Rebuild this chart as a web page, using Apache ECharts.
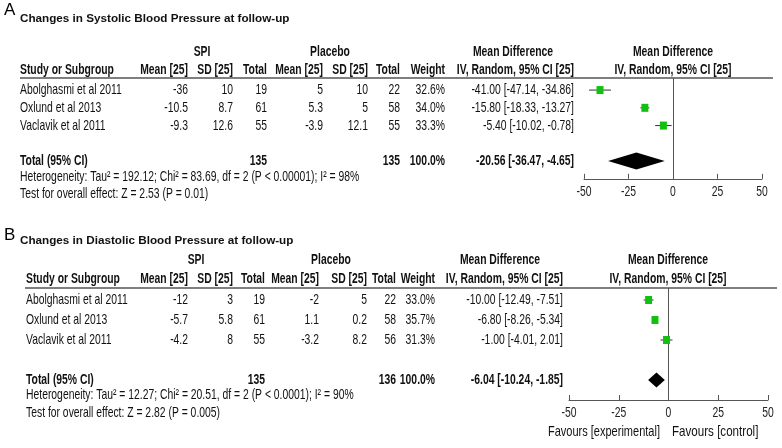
<!DOCTYPE html>
<html>
<head>
<meta charset="utf-8">
<script src="https://cdn.jsdelivr.net/npm/echarts@6/dist/echarts.min.js"></script>
<style>html,body{margin:0;padding:0;background:#fff}#c{width:782px;height:448px}</style>
</head>
<body>
<div id="c"></div>
<script>
// ---------------- DATA ----------------
const studies = ['Abolghasmi et al 2011', 'Oxlund et al 2013', 'Vaclavik et al 2011'];
const tickLabels = ['-50', '-25', '0', '25', '50'];

// Panel A: systolic
const titleA = 'Changes in Systolic Blood Pressure at follow-up';
const spiMeanA = [-36, -10.5, -9.3];
const spiSdA = [10, 8.7, 12.6];
const spiNA = [19, 61, 55];
const plMeanA = [5, 5.3, -3.9];
const plSdA = [10, 5, 12.1];
const plNA = [22, 58, 55];
const weightA = [32.6, 34.0, 33.3];
const mdA = [-41.00, -15.80, -5.40];
const loA = [-47.14, -18.33, -10.02];
const hiA = [-34.86, -13.27, -0.78];
const totalA = [135, 135, 100.0, -20.56, -36.47, -4.65]; // spiN, plN, weight, md, lo, hi
const hetA = 'Heterogeneity: Tau² = 192.12; Chi² = 83.69, df = 2 (P < 0.00001); I² = 98%';
const testA = 'Test for overall effect: Z = 2.53 (P = 0.01)';

// Panel B: diastolic
const titleB = 'Changes in Diastolic Blood Pressure at follow-up';
const spiMeanB = [-12, -5.7, -4.2];
const spiSdB = [3, 5.8, 8];
const spiNB = [19, 61, 55];
const plMeanB = [-2, 1.1, -3.2];
const plSdB = [5, 0.2, 8.2];
const plNB = [22, 58, 56];
const weightB = [33.0, 35.7, 31.3];
const mdB = [-10.00, -6.80, -1.00];
const loB = [-12.49, -8.26, -4.01];
const hiB = [-7.51, -5.34, 2.01];
const totalB = [135, 136, 100.0, -6.04, -10.24, -1.85];
const hetB = 'Heterogeneity: Tau² = 12.27; Chi² = 20.51, df = 2 (P < 0.0001); I² = 90%';
const testB = 'Test for overall effect: Z = 2.82 (P = 0.005)';

// ---------------- LAYOUT ----------------
const FONT = '"Liberation Sans", Arial, sans-serif';
const FS = 14.5;
const SX = 0.715;
const GREEN = '#12c012';

const panels = [
  {letter: 'A', title: titleA, spiMean: spiMeanA, spiSd: spiSdA, spiN: spiNA, plMean: plMeanA, plSd: plSdA, plN: plNA,
   weight: weightA, md: mdA, lo: loA, hi: hiA, total: totalA, het: hetA, test: testA,
   top: 78, min: 0.32, max: 6, unit: 17.75, gl: 584, gr: 762, studyX: 20,
   cols: {spiMean: 188, spiSd: 233, spiN: 267, plMean: 323, plSd: 368, plN: 400, w: 445, ci: 574},
   spiC: 202, plC: 330, mdC: 513, fC: 673, letterY: 10, titleY: 19, grpY: 52, hdrY: 70,
   ruleL: 20, ruleR: 773, hetY: 177, testY: 194, tickY: 192, halfH: 8.5, fav: false},
  {letter: 'B', title: titleB, spiMean: spiMeanB, spiSd: spiSdB, spiN: spiNB, plMean: plMeanB, plSd: plSdB, plN: plNB,
   weight: weightB, md: mdB, lo: loB, hi: hiB, total: totalB, het: hetB, test: testB,
   top: 288, min: 0.4, max: 6, unit: 20, gl: 569, gr: 768, studyX: 26,
   cols: {spiMean: 188, spiSd: 233, spiN: 265, plMean: 319, plSd: 367, plN: 396, w: 435, ci: 563},
   spiC: 196, plC: 331, mdC: 500, fC: 668, letterY: 235, titleY: 241, grpY: 260, hdrY: 279,
   ruleL: 25, ruleR: 777, hetY: 395, testY: 413, tickY: 413, halfH: 7.5, fav: true, favY: 432}
];

function T(x, y, text, o) {
  o = o || {};
  return {type: 'text', x: x, y: y, scaleX: (o.sx !== undefined ? o.sx : SX), silent: true, z: 10,
    style: {text: String(text), x: 0, y: 0, fontSize: o.size || FS, fontWeight: o.bold ? 'bold' : 'normal',
      fontFamily: FONT, fill: o.color || '#111', align: o.align || 'left', verticalAlign: 'middle'}};
}
const f2 = v => v.toFixed(2);
const ciText = (m, l, h) => f2(m) + ' [' + f2(l) + ', ' + f2(h) + ']';

const grids = [], xAxes = [], yAxes = [], series = [], graphics = [];

panels.forEach((p, k) => {
  const rowY = r => p.top + (r - p.min) * p.unit;
  const height = (p.max - p.min) * p.unit;
  grids.push({left: p.gl, width: p.gr - p.gl, top: p.top, height: height, containLabel: false});
  xAxes.push({type: 'value', gridIndex: k, min: -50, max: 50, interval: 25, position: 'bottom',
    axisLine: {show: true, onZero: false, lineStyle: {color: '#555', width: 1}},
    axisTick: {show: true, inside: true, length: 5, lineStyle: {color: '#555'}},
    splitLine: {show: false},
    axisLabel: {show: false}});
  yAxes.push({type: 'value', gridIndex: k, inverse: true, min: p.min, max: p.max, show: false});

  // CI whiskers
  series.push({type: 'custom', xAxisIndex: k, yAxisIndex: k, silent: true,
    data: p.md.map((m, i) => [p.lo[i], p.hi[i], i + 1]),
    encode: {x: [0, 1], y: 2},
    renderItem: (params, api) => {
      const a = api.coord([api.value(0), api.value(2)]);
      const b = api.coord([api.value(1), api.value(2)]);
      return {type: 'line', shape: {x1: a[0], y1: a[1], x2: b[0], y2: b[1]}, style: {stroke: '#333', lineWidth: 1}};
    }});
  // study squares + zero line
  series.push({type: 'scatter', xAxisIndex: k, yAxisIndex: k, silent: true, symbol: 'rect', symbolSize: [7, 8],
    itemStyle: {color: GREEN, opacity: 1},
    data: p.md.map((m, i) => [m, i + 1]),
    markLine: {silent: true, symbol: ['none', 'none'], label: {show: false},
      lineStyle: {color: '#555', width: 1, type: 'solid'}, data: [{xAxis: 0}]},
    z: 5});
  // pooled diamond
  const halfH = p.halfH;
  series.push({type: 'custom', xAxisIndex: k, yAxisIndex: k, silent: true,
    data: [[p.total[4], p.total[3], p.total[5], 5]],
    encode: {x: [0, 1, 2], y: 3},
    renderItem: (params, api) => {
      const l = api.coord([api.value(0), api.value(3)]);
      const c = api.coord([api.value(1), api.value(3)]);
      const r = api.coord([api.value(2), api.value(3)]);
      return {type: 'polygon', shape: {points: [[l[0], l[1]], [c[0], c[1] - halfH], [r[0], r[1]], [c[0], c[1] + halfH]]},
        style: {fill: '#000'}};
    }, z: 6});

  // ---- table text ----
  graphics.push(T(4, p.letterY, p.letter, {size: 17, sx: 1, color: '#000'}));
  graphics.push(T(20, p.titleY, p.title, {size: 11.7, bold: true, sx: 1, color: '#111'}));
  graphics.push(T(p.spiC, p.grpY, 'SPI', {bold: true, align: 'center'}));
  graphics.push(T(p.plC, p.grpY, 'Placebo', {bold: true, align: 'center'}));
  graphics.push(T(p.mdC, p.grpY, 'Mean Difference', {bold: true, align: 'center'}));
  graphics.push(T(p.fC, p.grpY, 'Mean Difference', {bold: true, align: 'center'}));
  const c = p.cols;
  graphics.push(T(p.studyX, p.hdrY, 'Study or Subgroup', {bold: true}));
  graphics.push(T(c.spiMean, p.hdrY, 'Mean [25]', {bold: true, align: 'right'}));
  graphics.push(T(c.spiSd, p.hdrY, 'SD [25]', {bold: true, align: 'right'}));
  graphics.push(T(c.spiN, p.hdrY, 'Total', {bold: true, align: 'right'}));
  graphics.push(T(c.plMean, p.hdrY, 'Mean [25]', {bold: true, align: 'right'}));
  graphics.push(T(c.plSd, p.hdrY, 'SD [25]', {bold: true, align: 'right'}));
  graphics.push(T(c.plN, p.hdrY, 'Total', {bold: true, align: 'right'}));
  graphics.push(T(c.w, p.hdrY, 'Weight', {bold: true, align: 'right'}));
  graphics.push(T(c.ci, p.hdrY, 'IV, Random, 95% CI [25]', {bold: true, align: 'right'}));
  graphics.push(T(p.fC, p.hdrY, 'IV, Random, 95% CI [25]', {bold: true, align: 'center'}));
  graphics.push({type: 'line', silent: true, z: 9, shape: {x1: p.ruleL, y1: p.top, x2: p.ruleR, y2: p.top},
    style: {stroke: '#555', lineWidth: 1.5}});

  studies.forEach((s, i) => {
    const y = rowY(i + 1);
    graphics.push(T(p.studyX, y, s));
    graphics.push(T(c.spiMean, y, p.spiMean[i], {align: 'right'}));
    graphics.push(T(c.spiSd, y, p.spiSd[i], {align: 'right'}));
    graphics.push(T(c.spiN, y, p.spiN[i], {align: 'right'}));
    graphics.push(T(c.plMean, y, p.plMean[i], {align: 'right'}));
    graphics.push(T(c.plSd, y, p.plSd[i], {align: 'right'}));
    graphics.push(T(c.plN, y, p.plN[i], {align: 'right'}));
    graphics.push(T(c.w, y, p.weight[i].toFixed(1) + '%', {align: 'right'}));
    graphics.push(T(c.ci, y, ciText(p.md[i], p.lo[i], p.hi[i]), {align: 'right'}));
  });
  const ty = rowY(5);
  graphics.push(T(p.studyX, ty, 'Total (95% CI)', {bold: true}));
  graphics.push(T(c.spiN, ty, p.total[0], {bold: true, align: 'right'}));
  graphics.push(T(c.plN, ty, p.total[1], {bold: true, align: 'right'}));
  graphics.push(T(c.w, ty, p.total[2].toFixed(1) + '%', {bold: true, align: 'right'}));
  graphics.push(T(c.ci, ty, ciText(p.total[3], p.total[4], p.total[5]), {bold: true, align: 'right'}));
  graphics.push(T(p.studyX, p.hetY, p.het));
  graphics.push(T(p.studyX, p.testY, p.test));
  if (p.fav) {
    graphics.push(T(p.fC - 8, p.favY, 'Favours [experimental]', {align: 'right', sx: 0.76}));
    graphics.push(T(p.fC + 4, p.favY, 'Favours [control]', {align: 'left', sx: 0.8}));
  }
});

const chart = echarts.init(document.getElementById('c'), null, {renderer: 'canvas'});
chart.setOption({
  backgroundColor: '#fff',
  animation: false,
  grid: grids, xAxis: xAxes, yAxis: yAxes, series: series,
  graphic: {elements: graphics}
});

// tick labels placed through the axis scale (narrow lettering like the reference)
panels.forEach((p, k) => {
  tickLabels.forEach(lab => {
    const px = chart.convertToPixel({xAxisIndex: k}, Number(lab));
    graphics.push(T(px, p.tickY, lab, {align: 'center', color: '#222'}));
  });
});
chart.setOption({graphic: {elements: graphics}});
</script>
</body>
</html>
